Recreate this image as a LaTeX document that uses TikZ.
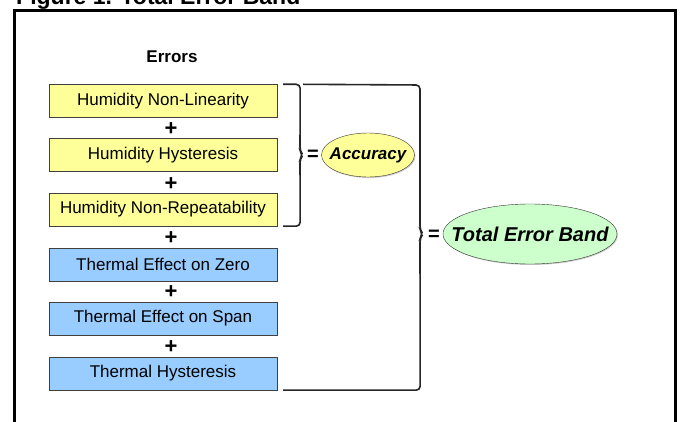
\documentclass[tikz,border=0pt]{standalone}
\usepackage{fontspec}
\setmainfont{Liberation Sans}
\usetikzlibrary{shapes.geometric,calc,shadows}

\definecolor{humid}{HTML}{FFFF99}
\definecolor{therm}{HTML}{99CCFF}
\definecolor{band}{HTML}{CCFFCC}

\begin{document}
\begin{tikzpicture}[x=1pt, y=-1pt,
    errbox/.style={rectangle, draw=black!75, minimum width=228pt, minimum height=33pt, inner sep=0pt,
        font=\fontsize{17}{20}\selectfont, drop shadow={shadow xshift=1pt, shadow yshift=-1pt, opacity=0.5}},
    plus/.style={font=\fontsize{22}{24}\selectfont\bfseries, inner sep=0pt},
    result/.style={ellipse, draw=black!80, inner sep=0pt,
        drop shadow={shadow xshift=1pt, shadow yshift=-1pt, opacity=0.4}},
    bracket/.style={draw=black!85, line width=1.6pt, rounded corners=4pt}]
            \useasboundingbox (0,0) rectangle (681,422);

            % Title and frame
            \node[anchor=base west, inner sep=0pt, font=\fontsize{23}{26}\selectfont\bfseries] (title) at (16,5) {Figure 1. Total Error Band};
            \draw[line width=3pt] (14,440) -- (14,11) -- (675,11) -- (675,440);

            % Define error boxes
            \node[font=\fontsize{17}{20}\selectfont\bfseries] (errors) at (172,57) {Errors};
            \node[errbox, fill=humid] (hnl) at (163,101) {Humidity Non-Linearity};
            \node[errbox, fill=humid] (hhy) at (163,155) {Humidity Hysteresis};
            \node[errbox, fill=humid] (hnr) at (163,209.5) {Humidity Non-Repeatability};
            \node[errbox, fill=therm] (tez) at (163,264.5) {Thermal Effect on Zero};
            \node[errbox, fill=therm] (tes) at (163,318.5) {Thermal Effect on Span};
            \node[errbox, fill=therm] (thy) at (163,373.5) {Thermal Hysteresis};

            % Plus signs
            \node[plus] (p1) at (171,129.5) {+};
            \node[plus] (p2) at (171,184) {+};
            \node[plus] (p3) at (171,238.5) {+};
            \node[plus] (p4) at (171,292.5) {+};
            \node[plus] (p5) at (171,347) {+};

            % Results
            \coordinate (t1) at (303,155);
            \coordinate (t2) at (423,234);
            \node[plus, font=\fontsize{20}{22}\selectfont\bfseries] (eq1) at (313,155.5) {=};
            \node[result, fill=humid, minimum width=93pt, minimum height=44pt] (acc) at (368,155)
                {\makebox[0pt]{\fontsize{17}{20}\selectfont\bfseries\itshape Accuracy}};
            \node[plus, font=\fontsize{20}{22}\selectfont\bfseries] (eq2) at (434,235) {=};
            \node[result, fill=band, minimum width=174pt, minimum height=60pt] (teb) at (530,234)
                {\makebox[0pt]{\fontsize{20}{24}\selectfont\bfseries\itshape Total Error Band}};

            % Draw braces
            \draw[bracket] ($(hnl.north east)+(6,0)$) -- ($(hnl.north east)+(23,0)$) -- ($(t1)+(-3,-4)$)
                -- (t1) -- ($(t1)+(-3,4)$) -- ($(hnr.south east)+(23,0)$) -- ($(hnr.south east)+(6,0)$);
            \draw[bracket] ($(hnl.north east)+(26,0)$) -- ($(t2)+(-3,-149)$) -- ($(t2)+(-3,-4)$)
                -- (t2) -- ($(t2)+(-3,4)$) -- ($(thy.south east)+(143,0)$) -- ($(thy.south east)+(6,0)$);
        \end{tikzpicture}
\end{document}
